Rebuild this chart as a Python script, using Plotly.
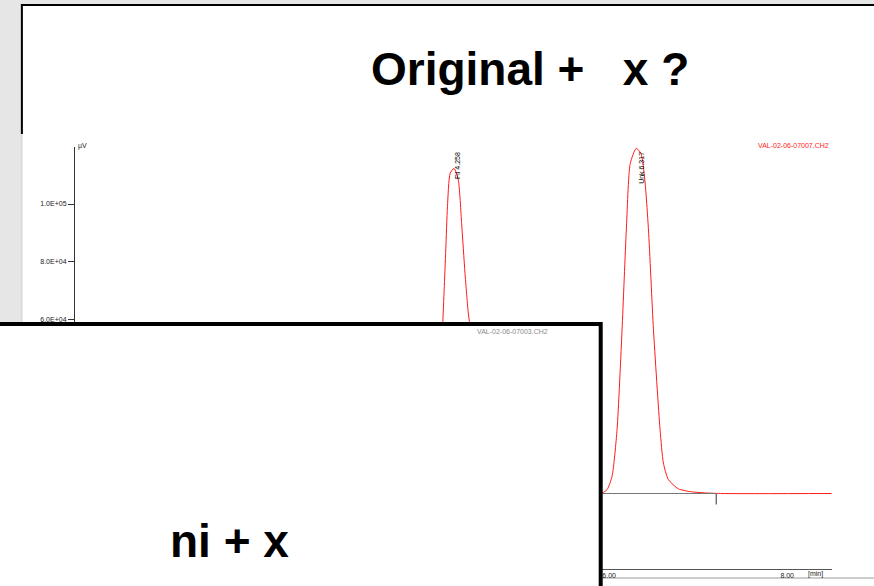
import plotly.graph_objects as go

W, H = 874, 586

# ---- data ----
time_min = [0.0, 3.90, 3.96, 4.00, 4.03, 4.06, 4.09, 4.12, 4.132, 4.147, 4.165, 4.184,
            4.214, 4.258, 4.306, 4.343, 4.381, 4.418, 4.43, 4.46, 4.49, 4.53, 4.57,
            4.63, 4.70, 4.80, 5.85, 5.922, 5.978, 6.033, 6.089, 6.145, 6.193, 6.237,
            6.304, 6.357, 6.401, 6.442, 6.498, 6.572, 6.609, 6.665, 6.777, 6.925,
            7.07, 7.25, 8.5]
signal_uv = [0, 0, 500, 2500, 7000, 18000, 35000, 52000, 59400, 70340, 84130, 99060,
             110600, 112300, 108270, 93340, 76100, 62300, 59400, 45000, 30000, 16000,
             8000, 3000, 1000, 0, 0, 170, 1380, 5970, 22070, 56550, 91030, 114000,
             119200, 117500, 108300, 91030, 56550, 22070, 10580, 4830, 1610, 580,
             230, 0, 0]

baseline_t = [3.93, 4.78, None, 5.922, 7.203]
baseline_v = [0, 0, None, 0, 0]
marker_t = [4.78, 4.78, None, 7.203, 7.203]
marker_v = [0, -3800, None, 0, -3800]

peak_names = ["Fil 4.258", "Unk 6.317"]
peak_times = [4.258, 6.317]

y_tickvals = [0, 20000, 40000, 60000, 80000, 100000]
y_ticktext = ["0.0E+00", "2.0E+04", "4.0E+04", "6.0E+04", "8.0E+04", "1.0E+05"]
x_tickvals = [0, 2, 4, 6, 8]
x_ticktext = ["0.00", "2.00", "4.00", "6.00", "8.00"]


def px(x):
    return x / W


def py(y):
    return 1 - y / H


# plot area geometry (pixels)
X_LEFT, PX_PER_MIN = 68.5, 89.75
Y_ZERO, PX_PER_1E5 = 493.5, 289.5
PLOT_TOP, PLOT_BOTTOM = 147, 569
x_rng = [0, 8.5]
x_right = X_LEFT + x_rng[1] * PX_PER_MIN
y_rng = [-(PLOT_BOTTOM - Y_ZERO) / PX_PER_1E5 * 1e5, (Y_ZERO - PLOT_TOP) / PX_PER_1E5 * 1e5]

FONT = "Liberation Sans, Arial, sans-serif"

fig = go.Figure()
fig.add_trace(go.Scatter(x=time_min, y=signal_uv, mode="lines",
                         line=dict(color="#ff1a1a", width=1, shape="spline", smoothing=0.6),
                         hoverinfo="skip", showlegend=False))
fig.add_trace(go.Scatter(x=baseline_t, y=baseline_v, mode="lines",
                         line=dict(color="#777777", width=1.2),
                         hoverinfo="skip", showlegend=False))
fig.add_trace(go.Scatter(x=marker_t, y=marker_v, mode="lines",
                         line=dict(color="#555555", width=1.2),
                         hoverinfo="skip", showlegend=False))

shapes = [
    # slide panel
    dict(type="rect", xref="paper", yref="paper", x0=px(15), x1=px(880), y0=py(600), y1=py(5),
         fillcolor="white", line=dict(width=0), layer="below"),
    dict(type="line", xref="paper", yref="paper", x0=px(14), x1=px(880), y0=py(5), y1=py(5),
         line=dict(color="black", width=2), layer="below"),
    dict(type="line", xref="paper", yref="paper", x0=px(15), x1=px(15), y0=py(5), y1=py(134),
         line=dict(color="black", width=2), layer="below"),
    dict(type="line", xref="paper", yref="paper", x0=px(15), x1=px(15), y0=py(134), y1=py(600),
         line=dict(color="#cfcfcf", width=1), layer="below"),
    dict(type="line", xref="paper", yref="paper", x0=px(15), x1=px(880), y0=py(578), y1=py(578),
         line=dict(color="#9a9a9a", width=1), layer="below"),
    # overlapping second chromatogram sheet
    dict(type="rect", xref="paper", yref="paper", x0=px(-10), x1=px(598.5), y0=py(610), y1=py(324),
         fillcolor="white", line=dict(color="black", width=4), layer="above"),
]

annotations = [
    dict(text="<b>Original +\u00a0\u00a0\u00a0x ?</b>", xref="paper", yref="paper",
         x=px(527.5), y=py(69), xanchor="center", yanchor="middle", showarrow=False,
         font=dict(family=FONT, size=46, color="black")),
    dict(text="<b>ni + x</b>", xref="paper", yref="paper",
         x=px(224), y=py(541), xanchor="center", yanchor="middle", showarrow=False,
         font=dict(family=FONT, size=46, color="black")),
    dict(text="VAL-02-06-07007.CH2", xref="paper", yref="paper",
         x=px(831), y=py(145), xanchor="right", yanchor="middle", showarrow=False,
         font=dict(family=FONT, size=7, color="#ff2020")),
    dict(text="VAL-02-06-07003.CH2", xref="paper", yref="paper",
         x=px(547), y=py(331), xanchor="right", yanchor="middle", showarrow=False,
         font=dict(family=FONT, size=7, color="#8a8a8a")),
    dict(text="µV", xref="paper", yref="paper",
         x=px(70), y=py(146), xanchor="left", yanchor="middle", showarrow=False,
         font=dict(family=FONT, size=7, color="#222222")),
    dict(text="[min]", xref="paper", yref="paper",
         x=px(805), y=py(573.5), xanchor="left", yanchor="middle", showarrow=False,
         font=dict(family=FONT, size=7, color="#222222")),
]
for name, t in zip(peak_names, peak_times):
    annotations.append(dict(text=name, x=t, xref="x", y=py(150), yref="paper",
                            xanchor="center", yanchor="top", xshift=3.5, textangle=-90,
                            showarrow=False, font=dict(family=FONT, size=7, color="black")))

fig.update_layout(
    width=W, height=H, margin=dict(l=0, r=0, t=0, b=0),
    paper_bgcolor="#e6e6e6", plot_bgcolor="white",
    showlegend=False, shapes=shapes, annotations=annotations,
    xaxis=dict(domain=[px(X_LEFT), px(x_right)], range=x_rng, showgrid=False, zeroline=False,
               showline=True, linecolor="#555555", linewidth=1, ticks="",
               tickvals=x_tickvals, ticktext=x_ticktext,
               tickfont=dict(family=FONT, size=7, color="#222222")),
    yaxis=dict(domain=[py(PLOT_BOTTOM), py(PLOT_TOP)], range=y_rng, showgrid=False, zeroline=False,
               showline=True, linecolor="#333333", linewidth=1, ticks="outside", ticklen=6,
               tickcolor="#333333", tickwidth=1,
               tickvals=y_tickvals, ticktext=y_ticktext,
               tickfont=dict(family=FONT, size=7, color="#222222")),
)

fig.write_html("out.html", config={"displayModeBar": False},
               post_script="document.body.style.margin='0px';document.body.style.overflow='hidden';")
